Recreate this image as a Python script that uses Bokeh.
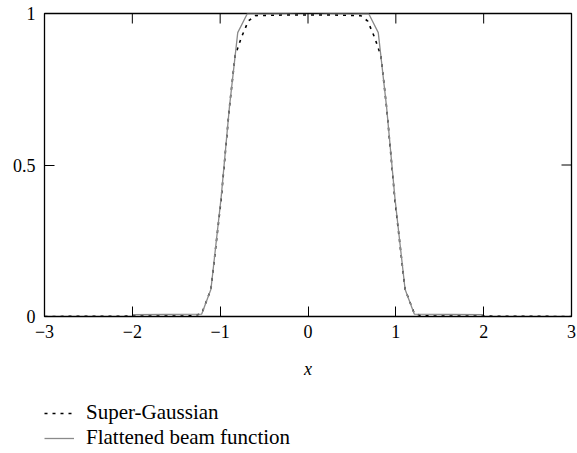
import math
from bokeh.plotting import figure
from bokeh.layouts import column
from bokeh.models import FixedTicker, Legend, LegendItem
from bokeh.embed import file_html
from bokeh.resources import INLINE

# ---- data ----
x_ticks = [-3, -2, -1, 0, 1, 2, 3]
x_tick_labels = ["\u22123", "\u22122", "\u22121", "0", "1", "2", "3"]
y_ticks = [0, 0.5, 1]
y_tick_labels = ["0", "0.5", "1"]

# Super-Gaussian (dotted black)
sg_x = [-3.0, -1.3, -1.21, -1.105, -0.99, -0.895, -0.83, -0.76, -0.68, -0.6, -0.3, 0.0,
        0.3, 0.6, 0.68, 0.76, 0.83, 0.895, 0.99, 1.105, 1.21, 1.3, 3.0]
sg_y = [0.0, 0.002, 0.01, 0.09, 0.383, 0.69, 0.86, 0.92, 0.975, 0.993, 0.995, 0.995,
        0.995, 0.993, 0.975, 0.92, 0.86, 0.69, 0.383, 0.09, 0.01, 0.002, 0.0]

# Flattened beam function (solid grey)
fb_x = [-2.0, -1.21, -1.105, -0.99, -0.895, -0.80, -0.69, -0.5, -0.3, -0.1, 0.1, 0.3,
        0.5, 0.69, 0.80, 0.895, 0.99, 1.105, 1.21, 2.0]
fb_y = [0.006, 0.008, 0.09, 0.39, 0.69, 0.937, 1.0, 0.999, 1.0, 1.003, 1.003, 1.0,
        0.999, 1.0, 0.937, 0.69, 0.39, 0.09, 0.008, 0.006]

FONT = "Liberation Serif"
FS = "18px"
X_MIN, X_MAX = -3, 3
Y_MIN, Y_MAX = 0, 1
SG_STYLE = dict(line_color="black", line_width=1.6, line_dash="3 5")
FB_STYLE = dict(line_color="#8a8a8a", line_width=1.3)

p = figure(width=577, height=386, x_range=(X_MIN, X_MAX), y_range=(Y_MIN, Y_MAX),
           output_backend="svg", toolbar_location=None,
           min_border_left=44, min_border_right=6, min_border_top=13,
           min_border_bottom=70)
p.background_fill_color = "white"
p.border_fill_color = "white"
p.outline_line_color = "black"
p.outline_line_width = 1.3
p.xgrid.visible = False
p.ygrid.visible = False

p.line(sg_x, sg_y, **SG_STYLE)
p.line(fb_x, fb_y, **FB_STYLE)

# bottom axis
xa = p.xaxis[0]
xa.ticker = FixedTicker(ticks=x_ticks)
xa.major_label_overrides = {t: s for t, s in zip(x_ticks, x_tick_labels)}
xa.axis_label = "x"
xa.axis_label_text_font = FONT
xa.axis_label_text_font_style = "italic"
xa.axis_label_text_font_size = FS
xa.axis_label_text_color = "black"
xa.axis_label_standoff = 18
xa.major_label_text_font = FONT
xa.major_label_text_font_size = FS
xa.major_label_text_color = "black"
xa.major_label_standoff = 8
xa.major_tick_in = 10
xa.major_tick_out = 0
xa.minor_tick_line_color = None
xa.axis_line_color = None

# left axis
ya = p.yaxis[0]
ya.ticker = FixedTicker(ticks=y_ticks)
ya.major_label_overrides = {t: s for t, s in zip(y_ticks, y_tick_labels)}
ya.major_label_text_font = FONT
ya.major_label_text_font_size = FS
ya.major_label_text_color = "black"
ya.major_label_standoff = 9
ya.major_tick_in = 10
ya.major_tick_out = 0
ya.minor_tick_line_color = None
ya.axis_line_color = None

# inward ticks on top and right edges (clipped to the frame)
inner_x = [t for t in x_ticks if X_MIN < t < X_MAX]
inner_y = [t for t in y_ticks if Y_MIN < t < Y_MAX]
p.scatter(x=inner_x, y=[Y_MAX] * len(inner_x), marker="dash", size=20,
          angle=math.pi / 2, line_color="black", line_width=1)
p.scatter(x=[X_MAX] * len(inner_y), y=inner_y, marker="dash", size=20,
          line_color="black", line_width=1)

# legend panel below the chart (series drawn outside its visible range)
lg = figure(width=577, height=67, x_range=(100, 101), y_range=(100, 101),
            output_backend="svg", toolbar_location=None,
            x_axis_location=None, y_axis_location=None,
            min_border_left=0, min_border_right=0, min_border_top=0,
            min_border_bottom=0)
lg.grid.visible = False
lg.outline_line_color = None
lg.background_fill_color = "white"
lg.border_fill_color = "white"
r1 = lg.line(sg_x, sg_y, **SG_STYLE)
r2 = lg.line(fb_x, fb_y, **FB_STYLE)

legend = Legend(items=[LegendItem(label="Super-Gaussian", renderers=[r1]),
                       LegendItem(label="Flattened beam function", renderers=[r2])],
                location=(0, 3), orientation="vertical",
                label_text_font=FONT, label_text_font_size="21px",
                label_text_color="black",
                glyph_width=30, glyph_height=20, label_height=20, spacing=0,
                label_standoff=12, padding=0, margin=0,
                border_line_color=None, background_fill_alpha=0)
lg.add_layout(legend, "center")

layout = column(p, lg, spacing=0)
open("out.html", "w").write(file_html(layout, INLINE))
